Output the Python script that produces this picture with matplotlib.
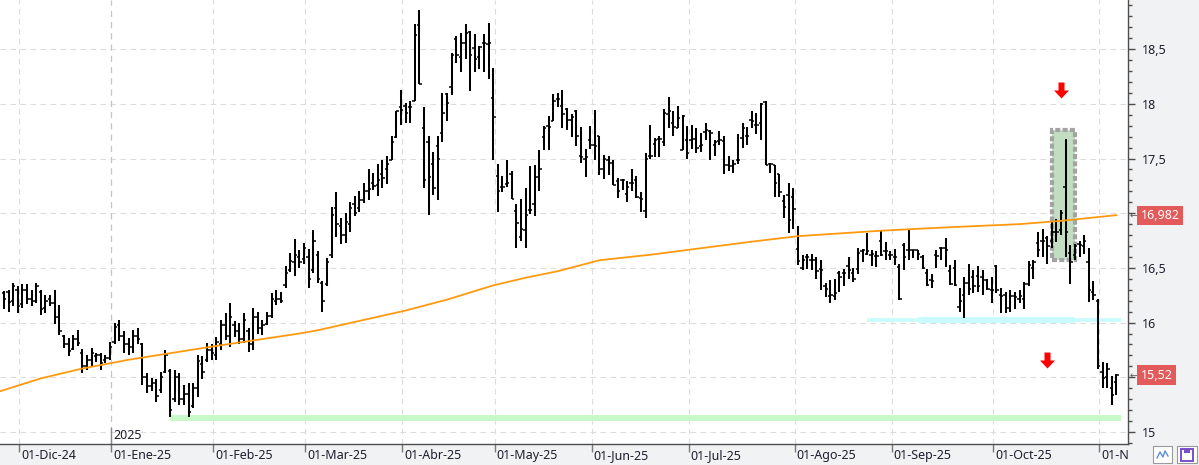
import numpy as np
import matplotlib
matplotlib.use("Agg")
import matplotlib.pyplot as plt
import matplotlib.transforms as mtransforms
from matplotlib.collections import LineCollection
from matplotlib.patches import Rectangle
from matplotlib.path import Path
from matplotlib.ticker import FixedLocator, FuncFormatter

plt.rcParams['font.family'] = ['Noto Sans', 'DejaVu Sans']

# ---------------- data ----------------
first_day = "2024-11-26"
market_holidays = ["2024-12-25", "2024-12-26", "2025-01-01",
                   "2025-04-18", "2025-04-21", "2025-05-01"]

opens = [16.27,16.28,16.20,16.30,16.17,16.30,16.22,16.20,16.28,16.13,16.22,16.18,16.05,15.88,15.80,15.76,15.85,15.72,15.60,15.66,
         15.69,15.70,15.66,15.68,15.82,15.98,15.88,15.80,15.78,15.88,15.80,15.50,15.42,15.45,15.38,15.55,15.56,15.30,15.50,15.30,
         15.35,15.24,15.40,15.62,15.66,15.75,15.70,15.80,15.98,15.88,15.98,15.92,15.85,15.92,15.80,16.05,15.95,15.99,16.06,16.20,
         16.22,16.34,16.48,16.55,16.60,16.58,16.60,16.48,16.62,16.36,16.35,16.62,17.05,16.88,16.80,16.90,17.08,17.05,17.12,17.20,
         17.28,17.26,17.36,17.40,17.49,17.70,17.97,17.98,17.97,18.03,18.72,17.78,17.65,17.45,17.61,17.73,18.09,18.15,18.59,18.43,
         18.56,18.66,18.51,18.43,18.56,18.55,18.05,17.34,17.24,17.27,17.36,17.02,16.78,16.85,17.03,17.08,17.33,17.70,17.80,17.84,
         18.04,17.98,17.95,17.85,17.93,17.52,17.50,17.67,17.62,17.71,17.40,17.49,17.46,17.29,17.30,17.18,17.28,17.30,17.14,17.02,
         17.52,17.63,17.68,17.65,17.91,17.82,17.78,17.58,17.67,17.67,17.68,17.61,17.74,17.75,17.62,17.66,17.66,17.44,17.43,17.49,
         17.69,17.71,17.85,17.81,17.82,18.02,17.45,17.44,17.36,17.11,17.17,17.15,16.67,16.50,16.60,16.57,16.57,16.49,16.33,16.24,
         16.24,16.45,16.45,16.52,16.45,16.49,16.65,16.63,16.62,16.61,16.75,16.65,16.62,16.60,16.51,16.71,16.66,16.66,16.66,16.60,
         16.45,16.39,16.62,16.68,16.68,16.47,16.50,16.14,16.25,16.36,16.42,16.43,16.42,16.39,16.30,16.52,16.25,16.25,16.13,16.24,
         16.22,16.22,16.35,16.50,16.73,16.75,16.77,16.75,16.83,16.85,17.24,16.64,16.62,16.72,16.70,16.55,16.28,16.20,15.55,15.50,
         15.40,15.46]
highs = [16.29,16.30,16.36,16.33,16.35,16.35,16.30,16.36,16.30,16.25,16.25,16.30,16.16,15.89,15.86,15.89,15.93,15.76,15.70,15.77,
         15.72,15.72,15.70,15.82,16.00,16.02,15.92,15.86,15.93,15.95,15.81,15.54,15.49,15.48,15.55,15.75,15.58,15.57,15.54,15.43,
         15.45,15.45,15.70,15.69,15.81,15.80,15.87,16.02,16.09,16.18,16.01,16.00,16.09,15.95,16.13,16.10,16.02,16.10,16.27,16.30,
         16.28,16.52,16.64,16.76,16.66,16.73,16.67,16.85,16.65,16.38,16.59,17.06,17.19,16.96,17.00,17.10,17.16,17.20,17.28,17.40,
         17.37,17.45,17.49,17.52,17.71,17.93,18.13,18.01,18.03,18.73,18.86,17.97,17.71,17.56,17.71,18.10,18.10,18.46,18.62,18.65,
         18.73,18.67,18.64,18.53,18.64,18.74,18.33,17.45,17.34,17.49,17.39,17.08,17.13,17.23,17.43,17.44,17.58,17.80,17.89,18.09,
         18.10,18.13,17.96,17.91,17.94,17.79,17.59,17.80,17.94,17.71,17.53,17.52,17.49,17.32,17.31,17.29,17.40,17.34,17.19,17.55,
         17.81,17.69,17.71,17.95,18.06,17.93,17.98,17.90,17.80,17.81,17.78,17.73,17.82,17.76,17.67,17.75,17.71,17.52,17.49,17.72,
         17.82,17.79,17.93,17.92,18.01,18.03,17.46,17.44,17.36,17.17,17.28,17.23,16.88,16.62,16.63,16.63,16.60,16.57,16.36,16.39,
         16.40,16.47,16.49,16.60,16.50,16.68,16.67,16.82,16.66,16.65,16.85,16.74,16.65,16.67,16.54,16.73,16.85,16.66,16.66,16.62,
         16.49,16.44,16.66,16.69,16.77,16.53,16.57,16.32,16.42,16.54,16.48,16.52,16.48,16.40,16.42,16.53,16.32,16.28,16.30,16.28,
         16.30,16.37,16.56,16.57,16.83,16.86,16.79,16.92,16.95,17.03,17.68,16.71,16.72,16.75,16.80,16.68,16.38,16.22,15.64,15.63,
         15.51,15.53]
lows = [16.12,16.10,16.15,16.09,16.13,16.17,16.15,16.18,16.07,16.09,16.15,15.99,15.89,15.77,15.69,15.75,15.79,15.54,15.57,15.60,
        15.64,15.57,15.63,15.66,15.80,15.83,15.72,15.70,15.72,15.80,15.43,15.36,15.37,15.27,15.36,15.54,15.14,15.27,15.25,15.25,
        15.14,15.22,15.32,15.48,15.64,15.66,15.66,15.75,15.84,15.78,15.87,15.80,15.81,15.73,15.75,15.90,15.89,15.98,16.04,16.16,
        16.18,16.32,16.46,16.43,16.50,16.54,16.32,16.45,16.36,16.10,16.33,16.59,16.78,16.72,16.73,16.83,16.97,17.01,17.09,17.12,
        17.21,17.16,17.23,17.27,17.49,17.69,17.81,17.82,17.82,18.03,18.18,17.23,16.98,17.17,17.12,17.65,17.84,18.08,18.37,18.29,
        18.41,18.12,18.29,18.32,18.29,18.23,17.49,17.01,17.19,17.24,17.13,16.68,16.75,16.68,16.99,16.97,17.20,17.58,17.58,17.84,
        17.97,17.78,17.76,17.70,17.61,17.46,17.33,17.59,17.49,17.35,17.31,17.35,17.26,17.14,17.21,17.10,17.20,17.14,17.01,16.96,
        17.50,17.51,17.51,17.61,17.78,17.71,17.78,17.58,17.50,17.59,17.55,17.56,17.67,17.49,17.52,17.62,17.36,17.39,17.37,17.45,
        17.60,17.62,17.78,17.72,17.67,17.44,17.37,17.15,17.15,16.96,16.82,16.86,16.53,16.48,16.49,16.48,16.40,16.30,16.23,16.18,
        16.21,16.28,16.33,16.40,16.37,16.44,16.55,16.62,16.52,16.51,16.61,16.57,16.57,16.53,16.21,16.48,16.57,16.59,16.57,16.49,
        16.33,16.32,16.50,16.57,16.51,16.34,16.33,16.10,16.04,16.25,16.27,16.28,16.25,16.30,16.18,16.27,16.09,16.09,16.10,16.12,
        16.18,16.12,16.33,16.40,16.60,16.60,16.54,16.68,16.74,16.80,16.60,16.35,16.57,16.60,16.63,16.19,16.21,15.58,15.40,15.40,
        15.25,15.34]
closes = [16.22,16.19,16.33,16.15,16.30,16.22,16.20,16.33,16.12,16.20,16.18,16.05,15.92,15.80,15.74,15.85,15.81,15.60,15.66,15.72,
          15.70,15.63,15.68,15.78,15.96,15.88,15.80,15.78,15.88,15.85,15.50,15.42,15.45,15.33,15.50,15.70,15.20,15.50,15.30,15.35,
          15.18,15.40,15.65,15.55,15.75,15.72,15.82,15.98,15.88,16.05,15.92,15.85,16.02,15.80,16.05,15.95,15.98,16.06,16.22,16.22,
          16.20,16.45,16.56,16.62,16.55,16.68,16.40,16.75,16.40,16.20,16.55,16.98,16.90,16.80,16.92,17.05,17.00,17.12,17.20,17.22,
          17.25,17.30,17.32,17.45,17.65,17.93,17.94,17.92,17.97,18.63,18.18,17.30,17.33,17.23,17.50,17.92,18.01,18.45,18.45,18.56,
          18.65,18.45,18.41,18.52,18.56,18.56,17.88,17.20,17.24,17.28,17.13,16.91,16.86,16.98,17.03,17.33,17.40,17.78,17.79,18.03,
          18.04,17.91,17.85,17.88,17.71,17.51,17.51,17.62,17.61,17.40,17.50,17.46,17.26,17.20,17.30,17.24,17.28,17.15,17.13,17.50,
          17.52,17.67,17.68,17.92,17.93,17.79,17.87,17.89,17.55,17.68,17.60,17.62,17.76,17.73,17.65,17.67,17.44,17.43,17.45,17.49,
          17.78,17.71,17.84,17.81,18.00,17.44,17.45,17.28,17.19,17.06,16.94,17.04,16.56,16.57,16.60,16.57,16.47,16.48,16.31,16.25,
          16.27,16.42,16.45,16.48,16.40,16.64,16.66,16.65,16.63,16.61,16.62,16.65,16.62,16.60,16.22,16.60,16.66,16.66,16.63,16.50,
          16.34,16.38,16.61,16.68,16.66,16.35,16.34,16.20,16.36,16.31,16.33,16.33,16.39,16.31,16.30,16.30,16.24,16.13,16.24,16.23,
          16.24,16.35,16.53,16.55,16.66,16.75,16.70,16.83,16.83,17.00,16.83,16.55,16.70,16.71,16.75,16.30,16.25,15.60,15.49,15.58,
          15.34,15.52]

ma_dates = ["2024-11-25", "2024-12-06", "2024-12-19", "2025-01-07", "2025-01-31", "2025-02-27",
            "2025-03-05", "2025-04-01", "2025-04-14", "2025-04-30", "2025-05-12", "2025-05-21",
            "2025-06-03", "2025-06-18", "2025-07-03", "2025-07-18", "2025-08-01", "2025-08-27",
            "2025-09-16", "2025-10-08", "2025-10-21", "2025-11-06"]
ma_values = [15.37, 15.49, 15.58, 15.66, 15.78, 15.90,
             15.93, 16.11, 16.21, 16.34, 16.41, 16.47,
             16.57, 16.62, 16.68, 16.74, 16.79, 16.84,
             16.87, 16.90, 16.93, 16.982]

month_starts = ["2024-12-01", "2025-01-01", "2025-02-01", "2025-03-01", "2025-04-01", "2025-05-01",
                "2025-06-01", "2025-07-01", "2025-08-01", "2025-09-01", "2025-10-01", "2025-11-01"]
month_labels = ["01-Dic-24", "01-Ene-25", "01-Feb-25", "01-Mar-25", "01-Abr-25", "01-May-25",
                "01-Jun-25", "01-Jul-25", "01-Ago-25", "01-Sep-25", "01-Oct-25", "01-Nov-25"]
year_label = "2025"

support_level = 15.13
support_span = ("2025-01-20", "2025-11-07")
level_16 = 16.02
level_16_span = ("2025-08-22", "2025-11-07")
level_16_core = ("2025-09-08", "2025-10-24")

highlight_span = ("2025-10-17", "2025-10-24")
highlight_range = (16.57, 17.76)

arrow_dates = ["2025-10-21", "2025-10-16"]
arrow_levels = [18.13, 15.66]

y_ticks = [15.0, 15.5, 16.0, 16.5, 17.0, 17.5, 18.0, 18.5]


def pos(d):
    return float(np.busday_count(first_day, d, holidays=market_holidays))


last_marks = [ma_values[-1], closes[-1]]

# ---------------- figure ----------------
W, H = 1199, 465
FS = 8.5
TXT = '#1e1e30'
fig = plt.figure(figsize=(W / 100, H / 100), dpi=100, facecolor='#f1f2f4')
ax = fig.add_axes([0, 21 / H, 1128 / W, 444 / H])
ax.set_facecolor('white')
ax.set_xlim(-0.85, 243.5)
ax.set_ylim(14.890, 18.949)

# grid
grid_kw = dict(color='#dcdcdc', lw=0.8, dashes=(5, 4), zorder=0.5)
for yv in y_ticks:
    ax.axhline(yv, **grid_kw)
tick_pos = [pos(m) - 0.7 for m in month_starts]
for i, xp in enumerate(tick_pos):
    if month_labels[i].startswith("01-Ene"):
        ax.axvline(xp, color='#c4c4c4', lw=0.9, dashes=(5, 4), zorder=0.6)
    else:
        ax.axvline(xp, **grid_kw)

# highlight box
hx0, hx1 = pos(highlight_span[0]), pos(highlight_span[1])
ax.add_patch(Rectangle((hx0, highlight_range[0]), hx1 - hx0, highlight_range[1] - highlight_range[0],
                       facecolor='#c3ddc3', edgecolor='#a3a3a3', lw=3.0,
                       linestyle=(0, (1.2, 0.55)), zorder=1))

# support / level bands
ax.plot([pos(support_span[0]), pos(support_span[1])], [support_level] * 2,
        color='#c9f8c9', lw=4.3, solid_capstyle='butt', zorder=1.5)
ax.plot([pos(level_16_span[0]), pos(level_16_span[1])], [level_16] * 2,
        color='#c8fbfd', lw=2.6, solid_capstyle='butt', zorder=1.5)
ax.plot([pos(level_16_core[0]), pos(level_16_core[1])], [level_16] * 2,
        color='#c8fbfd', lw=4.2, solid_capstyle='butt', zorder=1.5)

# OHLC bars
n = len(opens)
xs = np.arange(n)
w = 0.5
vert = [[(x, l), (x, h)] for x, l, h in zip(xs, lows, highs)]
otk = [[(x - w, o), (x, o)] for x, o in zip(xs, opens)]
ctk = [[(x, c), (x + w, c)] for x, c in zip(xs, closes)]
ax.add_collection(LineCollection(vert, colors='black', linewidths=1.45, zorder=3, capstyle='butt'))
ax.add_collection(LineCollection(otk + ctk, colors='black', linewidths=1.1, zorder=3, capstyle='butt'))

# moving average
ax.plot([pos(d) for d in ma_dates], ma_values, color='#ff9a10', lw=1.3, zorder=4)

# arrows
arrow_path = Path([(-0.3, 0.8), (0.3, 0.8), (0.3, 0.0), (0.75, 0.0), (0.0, -0.8),
                   (-0.75, 0.0), (-0.3, 0.0), (-0.3, 0.8)],
                  [Path.MOVETO] + [Path.LINETO] * 6 + [Path.CLOSEPOLY])
for d, lv in zip(arrow_dates, arrow_levels):
    ax.plot([pos(d)], [lv], marker=arrow_path, markersize=11.5, color='#ff0000',
            markeredgewidth=0, linestyle='none', zorder=5)

# axes styling
for s in ['left', 'top']:
    ax.spines[s].set_visible(False)
ax.spines['right'].set_color('#4d4d4d')
ax.spines['bottom'].set_color('#4d4d4d')
ax.spines['right'].set_linewidth(1.0)
ax.spines['bottom'].set_linewidth(1.0)


def ylab(v, p):
    # the last-value markers sit on top of the nearby scale labels
    if any(abs(v - m) < 0.1 for m in last_marks):
        return ''
    return f"{v:g}".replace('.', ',')


ax.yaxis.tick_right()
ax.yaxis.set_major_locator(FixedLocator(y_ticks))
ax.yaxis.set_minor_locator(FixedLocator(np.round(np.arange(14.9, 18.95, 0.1), 2)))
ax.yaxis.set_major_formatter(FuncFormatter(ylab))
ax.tick_params(axis='y', which='major', length=5, width=1, color='#4d4d4d',
               labelsize=FS + 0.5, labelcolor=TXT, pad=5)
ax.tick_params(axis='y', which='minor', length=3, width=1, color='#4d4d4d')

ax.xaxis.set_major_locator(FixedLocator(tick_pos))
ax.xaxis.set_major_formatter(FuncFormatter(lambda v, p: ''))
ax.tick_params(axis='x', which='major', length=6, width=1, color='#7a7a7a')

clip = mtransforms.Bbox([[0, 0], [1128, H]])
for xp, lbl in zip(tick_pos, month_labels):
    t = ax.annotate(lbl, xy=(xp, 0), xycoords=('data', 'axes fraction'),
                    xytext=(1.5, -8.2), textcoords='offset points', ha='left', va='center',
                    fontsize=FS + 0.5, color=TXT, annotation_clip=False)
    t.set_clip_on(True)
    t.set_clip_box(clip)

# year marker
jan_x = tick_pos[1]
ax.plot([jan_x, jan_x], [0, 16 / 444], transform=ax.get_xaxis_transform(),
        color='#8a8a8a', lw=1.0, zorder=2, clip_on=False)
ax.annotate(year_label, xy=(jan_x, 0), xycoords=('data', 'axes fraction'),
            xytext=(1.5, 6), textcoords='offset points', ha='left', va='center',
            fontsize=FS + 0.5, color=TXT)

# last value labels
for val, txt in [(ma_values[-1], f"{ma_values[-1]:.3f}".replace('.', ',')),
                 (closes[-1], f"{closes[-1]:.2f}".replace('.', ','))]:
    ax.annotate(txt, xy=(1, val), xycoords=('axes fraction', 'data'),
                xytext=(9, 0), textcoords='offset points', ha='left', va='center',
                fontsize=FS + 0.5, color='white', zorder=10, annotation_clip=False,
                bbox=dict(boxstyle='square,pad=0.25', fc='#e35a5a', ec='none'))
    ax.annotate('←', xy=(1, val), xycoords=('axes fraction', 'data'),
                xytext=(1, 0), textcoords='offset points', ha='left', va='center',
                fontsize=6.5, color='#555555', zorder=10, annotation_clip=False,
                family='DejaVu Sans')

# bottom-right buttons
def fbox(x0, y0, x1, y1):
    return (x0 / W, 1 - y1 / H), (x1 - x0) / W, (y1 - y0) / H

(bx, by), bw, bh = fbox(1153, 446, 1172, 463)
fig.add_artist(Rectangle((bx, by), bw, bh, transform=fig.transFigure,
                         facecolor='white', edgecolor='#9a9a9a', lw=0.8))
zz_x = [1157, 1160, 1163, 1165, 1168]
zz_y = [458, 452, 457, 451, 456]
fig.add_artist(plt.Line2D([v / W for v in zz_x], [1 - v / H for v in zz_y],
                          transform=fig.transFigure, color='#5b8fd9', lw=1.0))
(bx, by), bw, bh = fbox(1177, 446, 1197, 463)
fig.add_artist(Rectangle((bx, by), bw, bh, transform=fig.transFigure,
                         facecolor='white', edgecolor='#9a9a9a', lw=0.8))
(bx, by), bw, bh = fbox(1181, 449, 1193, 461)
fig.add_artist(Rectangle((bx, by), bw, bh, transform=fig.transFigure,
                         facecolor='none', edgecolor='#7a4fc9', lw=1.4))
(bx, by), bw, bh = fbox(1184, 449, 1190, 453)
fig.add_artist(Rectangle((bx, by), bw, bh, transform=fig.transFigure,
                         facecolor='#7a4fc9', edgecolor='none'))

fig.savefig("out.png", dpi=100, facecolor=fig.get_facecolor())
